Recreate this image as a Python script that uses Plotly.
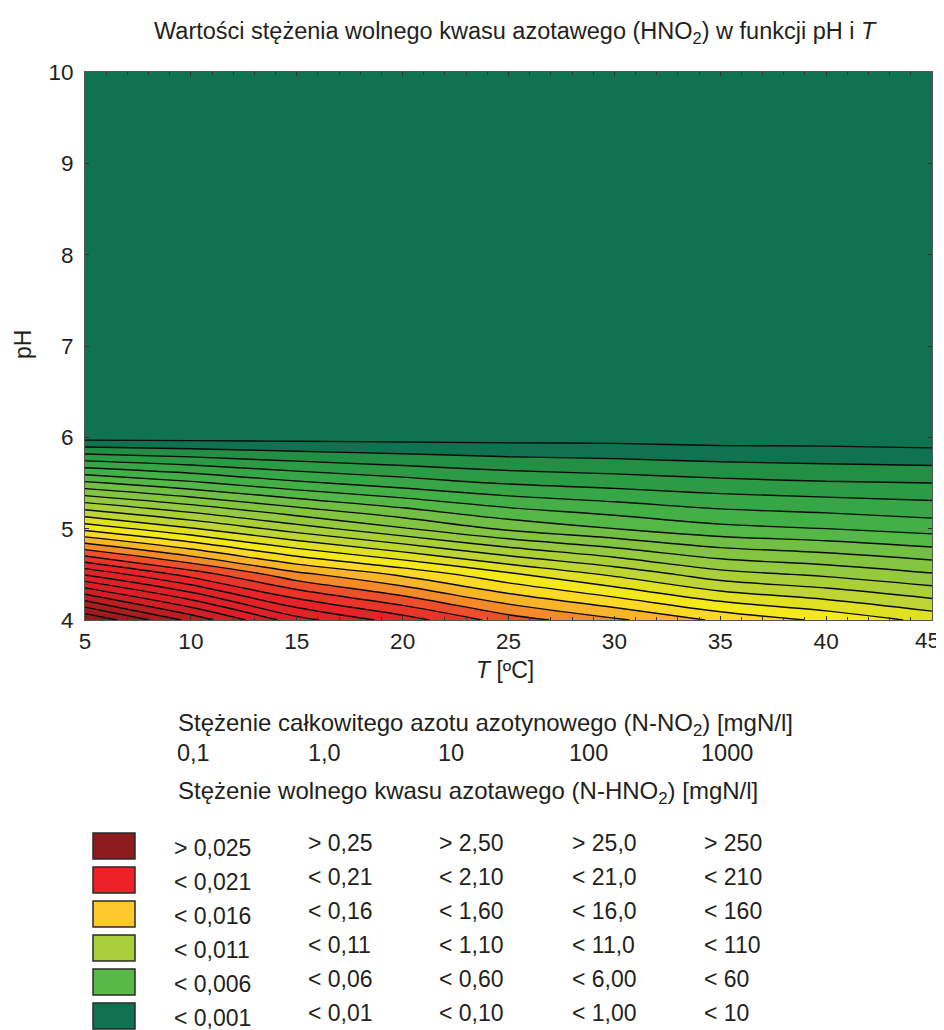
import plotly.graph_objects as go

# ---- data ----
temperature = [5, 10, 15, 20, 25, 30, 35, 40, 45]
ph_levels = [4.0, 4.5, 5.0, 5.5, 6.0, 7.0, 8.0, 9.0, 10.0]
# free nitrous acid concentration (N-HNO2, mgN/l for 0.1 mgN/l N-NO2), rows = pH, cols = T
fna = [
    [0.0280, 0.0247, 0.0214, 0.0195, 0.0175, 0.0162, 0.0148, 0.0138, 0.0127],
    [0.0209, 0.0186, 0.0163, 0.0148, 0.0132, 0.0118, 0.0104, 0.0098, 0.0091],
    [0.0137, 0.0121, 0.0105, 0.0091, 0.0078, 0.0070, 0.0063, 0.0060, 0.0056],
    [0.0072, 0.0062, 0.0052, 0.0045, 0.0039, 0.0036, 0.0033, 0.0031, 0.0030],
    [0.0006, 0.0006, 0.0006, 0.0006, 0.0006, 0.0006, 0.0005, 0.0005, 0.0004],
    [0.0, 0.0, 0.0, 0.0, 0.0, 0.0, 0.0, 0.0, 0.0],
    [0.0, 0.0, 0.0, 0.0, 0.0, 0.0, 0.0, 0.0, 0.0],
    [0.0, 0.0, 0.0, 0.0, 0.0, 0.0, 0.0, 0.0, 0.0],
    [0.0, 0.0, 0.0, 0.0, 0.0, 0.0, 0.0, 0.0, 0.0],
]
x_tick_labels = ["5", "10", "15", "20", "25", "30", "35", "40", "45"]
y_tick_labels = ["4", "5", "6", "7", "8", "9", "10"]

nitrite_totals = ["0,1", "1,0", "10", "100", "1000"]
legend_colors = ["#8E1B1E", "#EE2226", "#FFC92E", "#A9CF3A", "#59B947", "#0F7352"]
legend_labels = [
    ["> 0,025", "< 0,021", "< 0,016", "< 0,011", "< 0,006", "< 0,001"],
    ["> 0,25", "< 0,21", "< 0,16", "< 0,11", "< 0,06", "< 0,01"],
    ["> 2,50", "< 2,10", "< 1,60", "< 1,10", "< 0,60", "< 0,10"],
    ["> 25,0", "< 21,0", "< 16,0", "< 11,0", "< 6,00", "< 1,00"],
    ["> 250", "< 210", "< 160", "< 110", "< 60", "< 10"],
]

# ---- geometry helpers (reference page pixels; page body has an 8px margin) ----
OFF = 8
W, H = 944 - OFF, 1030 - OFF
PL, PR, PT, PB = 85, 932, 72, 620          # plot area in page pixels


def px(xp):
    return (xp - PL) / (PR - PL)


def py(yp):
    return (PB - yp) / (PB - PT)


TXT = "#231F20"
FONT = "Liberation Sans, Arial, sans-serif"

zmax = 0.028
stops = [
    (0.0, "#0F7352"), (0.0009, "#0F7352"), (0.0011, "#1E8A43"),
    (0.003, "#2FA046"), (0.0055, "#4DB648"), (0.0065, "#6DBE45"),
    (0.009, "#98CA3E"), (0.0108, "#BBD534"), (0.0118, "#DDE024"),
    (0.013, "#F5E91D"), (0.0142, "#FCD625"), (0.0152, "#F9AE2B"),
    (0.0162, "#F3852A"), (0.0172, "#EC4A2A"), (0.019, "#E62328"),
    (0.023, "#D81F26"), (0.025, "#B01D21"), (0.028, "#861A1C"),
]
colorscale = [[v / zmax, c] for v, c in stops]

fig = go.Figure(
    go.Contour(
        x=temperature,
        y=ph_levels,
        z=fna,
        zmin=0,
        zmax=zmax,
        colorscale=colorscale,
        showscale=False,
        contours=dict(start=0.001, end=0.030, size=0.001, coloring="fill"),
        line=dict(color="#0A0A0A", width=1.4),
        hoverinfo="skip",
    )
)

fig.update_layout(
    template="none",
    width=W,
    height=H,
    margin=dict(l=PL - OFF, r=944 - PR, t=PT - OFF, b=1030 - PB, pad=0),
    paper_bgcolor="white",
    plot_bgcolor="white",
    font=dict(family=FONT, color=TXT, size=22),
    showlegend=False,
)

common = dict(
    showline=True, linecolor="#555", linewidth=1, mirror="allticks",
    showgrid=False, zeroline=False, automargin=False,
    ticks="inside", ticklen=4, tickcolor="#333",
    tickfont=dict(size=22.5, color=TXT, family=FONT),
    ticklabeloverflow="allow",
)
# last x label ("45") is drawn as an annotation, right-aligned at the page edge
fig.update_xaxes(
    range=[5, 45],
    tickvals=temperature,
    ticktext=x_tick_labels[:-1] + [""],
    minor=dict(dtick=1, ticks="inside", ticklen=3, tickcolor="#333"),
    ticklabelstandoff=1,
    **common,
)
fig.update_yaxes(
    range=[4, 10],
    tickvals=[float(v) for v in y_tick_labels],
    ticktext=y_tick_labels,
    ticklabelstandoff=6,
    **common,
)

ann = []
ann.append(dict(text=x_tick_labels[-1], x=px(942), y=py(640), xref="paper", yref="paper",
                showarrow=False, font=dict(size=22.5, color=TXT), xanchor="right",
                yanchor="middle"))
# title
ann.append(dict(
    text="Wartości stężenia wolnego kwasu azotawego (HNO<sub>2</sub>) w funkcji pH i <i>T</i>",
    x=px(515), y=py(33), xref="paper", yref="paper", showarrow=False,
    font=dict(size=23.5, color=TXT), xanchor="center", yanchor="middle",
))
# axis titles
ann.append(dict(text="<i>T</i> [ºC]", x=px(505), y=py(670), xref="paper", yref="paper",
                showarrow=False, font=dict(size=23, color=TXT), xanchor="center", yanchor="middle"))
ann.append(dict(text="pH", x=px(23), y=py(345), xref="paper", yref="paper", textangle=-90,
                showarrow=False, font=dict(size=23, color=TXT), xanchor="center", yanchor="middle"))
# legend headings
ann.append(dict(text="Stężenie całkowitego azotu azotynowego (N-NO<sub>2</sub>) [mgN/l]",
                x=px(176), y=py(724), xref="paper", yref="paper", showarrow=False,
                font=dict(size=24, color=TXT), xanchor="left", yanchor="middle"))
num_x = [175, 306, 436, 567, 699]
for cx, t in zip(num_x, nitrite_totals):
    ann.append(dict(text=t, x=px(cx), y=py(753), xref="paper", yref="paper", showarrow=False,
                    font=dict(size=23.5, color=TXT), xanchor="left", yanchor="middle"))
ann.append(dict(text="Stężenie wolnego kwasu azotawego (N-HNO<sub>2</sub>) [mgN/l]",
                x=px(176), y=py(792), xref="paper", yref="paper", showarrow=False,
                font=dict(size=24, color=TXT), xanchor="left", yanchor="middle"))

col_x = [172, 306, 437, 570, 702]
row_y0, row_dy = 846, 34.0
shapes = []
for i, col in enumerate(legend_colors):
    yc = row_y0 + i * row_dy
    shapes.append(dict(type="rect", xref="paper", yref="paper",
                       x0=px(93), x1=px(135), y0=py(yc - 13), y1=py(yc + 13),
                       fillcolor=col, line=dict(color="#2A2A2A", width=1.5)))
for j, labels in enumerate(legend_labels):
    for i, t in enumerate(labels):
        yc = row_y0 + i * row_dy + (2 if j == 0 else -3)
        ann.append(dict(text=t, x=px(col_x[j]), y=py(yc), xref="paper", yref="paper",
                        showarrow=False, font=dict(size=23, color=TXT),
                        xanchor="left", yanchor="middle"))

fig.update_layout(annotations=ann, shapes=shapes)
fig.write_html("out.html")
